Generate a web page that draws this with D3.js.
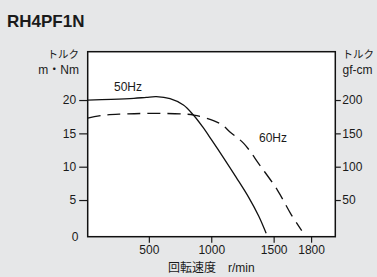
<!DOCTYPE html>
<html>
<head>
<meta charset="utf-8">
<script src="https://cdn.jsdelivr.net/npm/d3@7"></script>
<style>
  html, body { margin: 0; padding: 0; background: #e6e7e8; }
  svg { display: block; }
  text { font-family: "Liberation Sans", Arial, "Noto Sans CJK JP", sans-serif; fill: #1a1a1a; }
  .jp { font-family: "Noto Sans CJK JP", sans-serif; }
</style>
</head>
<body>
<div id="chart"></div>
<script>
// 回転速度 r/min vs トルク m・Nm
const speed50 = [10, 200, 380, 480, 560, 670, 777, 857, 930, 1000, 1100, 1200, 1300, 1380, 1440]
const torque50 = [20.0, 20.1, 20.25, 20.4, 20.5, 20.2, 19.25, 17.75, 16.0, 14.1, 11.3, 8.4, 5.4, 2.6, 0]
const speed60 = [10, 150, 300, 500, 780, 860, 965, 1085, 1150, 1260, 1390, 1530, 1635, 1725]
const torque60 = [17.3, 17.75, 17.9, 18.0, 17.9, 17.75, 17.25, 16.3, 15.2, 13.5, 10.2, 6.5, 3.0, 0.4]
const xTicks = [500, 1000, 1500, 1800]
const yTicks = [5, 10, 15, 20]
const yTicksRight = [50, 100, 150, 200]

const width = 377, height = 277
const plotLeft = 87.7, plotRight = 335.3, plotTop = 51.7, plotBottom = 236.7

const svg = d3.select('#chart').append('svg')
  .attr('width', width)
  .attr('height', height)

const x = d3.scaleLinear().domain([10, 1994]).range([plotLeft, plotRight])
const y = d3.scaleLinear().domain([-0.5, 27.25]).range([plotBottom, plotTop])
const y2 = d3.scaleLinear().domain([-5, 272.5]).range([plotBottom, plotTop])

svg.append('text')
  .attr('x', 7)
  .attr('y', 26.5)
  .attr('font-size', 17)
  .attr('font-weight', 'bold')
  .text('RH4PF1N')

svg.append('rect')
  .attr('x', plotLeft)
  .attr('y', plotTop)
  .attr('width', plotRight - plotLeft)
  .attr('height', plotBottom - plotTop)
  .attr('fill', '#fff')

const styleAxis = g => {
  g.select('.domain').remove()
  g.selectAll('line').attr('stroke', '#1a1a1a').attr('stroke-width', 1.2)
  g.selectAll('text').attr('font-size', 12).attr('fill', '#1a1a1a')
    .attr('font-family', '"Liberation Sans", Arial, sans-serif')
}

svg.append('g')
  .attr('transform', `translate(${plotLeft},0)`)
  .call(d3.axisLeft(y).tickValues(yTicks).tickFormat(d3.format('d')).tickSize(8.5).tickPadding(3))
  .call(styleAxis)

svg.append('g')
  .attr('transform', `translate(${plotRight},0)`)
  .call(d3.axisRight(y2).tickValues(yTicksRight).tickFormat(d3.format('d')).tickSize(5.5).tickPadding(1.5))
  .call(styleAxis)

svg.append('g')
  .attr('transform', `translate(0,${plotBottom})`)
  .call(d3.axisBottom(x).tickValues(xTicks).tickFormat(d3.format('d')).tickSize(6).tickPadding(2.5))
  .call(styleAxis)

// 0 label sits at the baseline without a tick
svg.append('text')
  .attr('x', 78.5)
  .attr('y', plotBottom + 4.3)
  .attr('text-anchor', 'end')
  .attr('font-size', 12)
  .text('0')

const line = d3.line()
  .x(d => x(d[0]))
  .y(d => y(d[1]))
  .curve(d3.curveCatmullRom)

const plot = svg.append('g')

plot.append('path')
  .datum(d3.zip(speed50, torque50))
  .attr('d', line)
  .attr('fill', 'none')
  .attr('stroke', '#111')
  .attr('stroke-width', 1.3)

plot.append('path')
  .datum(d3.zip(speed60, torque60))
  .attr('d', line)
  .attr('fill', 'none')
  .attr('stroke', '#111')
  .attr('stroke-width', 1.3)
  .attr('stroke-dasharray', '13,7')

svg.append('rect')
  .attr('x', plotLeft)
  .attr('y', plotTop)
  .attr('width', plotRight - plotLeft)
  .attr('height', plotBottom - plotTop)
  .attr('fill', 'none')
  .attr('stroke', '#111')
  .attr('stroke-width', 1.5)

svg.append('text')
  .attr('x', 114)
  .attr('y', 91)
  .attr('font-size', 12)
  .text('50Hz')

svg.append('text')
  .attr('x', 259)
  .attr('y', 141.5)
  .attr('font-size', 12)
  .text('60Hz')

// axis titles
svg.append('text').attr('class', 'jp')
  .attr('x', 79).attr('y', 57.5)
  .attr('text-anchor', 'end')
  .attr('font-size', 10.5)
  .text('トルク')

svg.append('text')
  .attr('x', 79).attr('y', 74)
  .attr('text-anchor', 'end')
  .attr('font-size', 12)
  .text('m・Nm')

svg.append('text').attr('class', 'jp')
  .attr('x', 342.5).attr('y', 57.5)
  .attr('font-size', 10.5)
  .text('トルク')

svg.append('text')
  .attr('x', 342.5).attr('y', 74)
  .attr('font-size', 12)
  .text('gf-cm')

svg.append('text').attr('class', 'jp')
  .attr('x', 168).attr('y', 272)
  .attr('font-size', 12)
  .text('回転速度')

svg.append('text')
  .attr('x', 228).attr('y', 272)
  .attr('font-size', 12)
  .text('r/min')
</script>
</body>
</html>
